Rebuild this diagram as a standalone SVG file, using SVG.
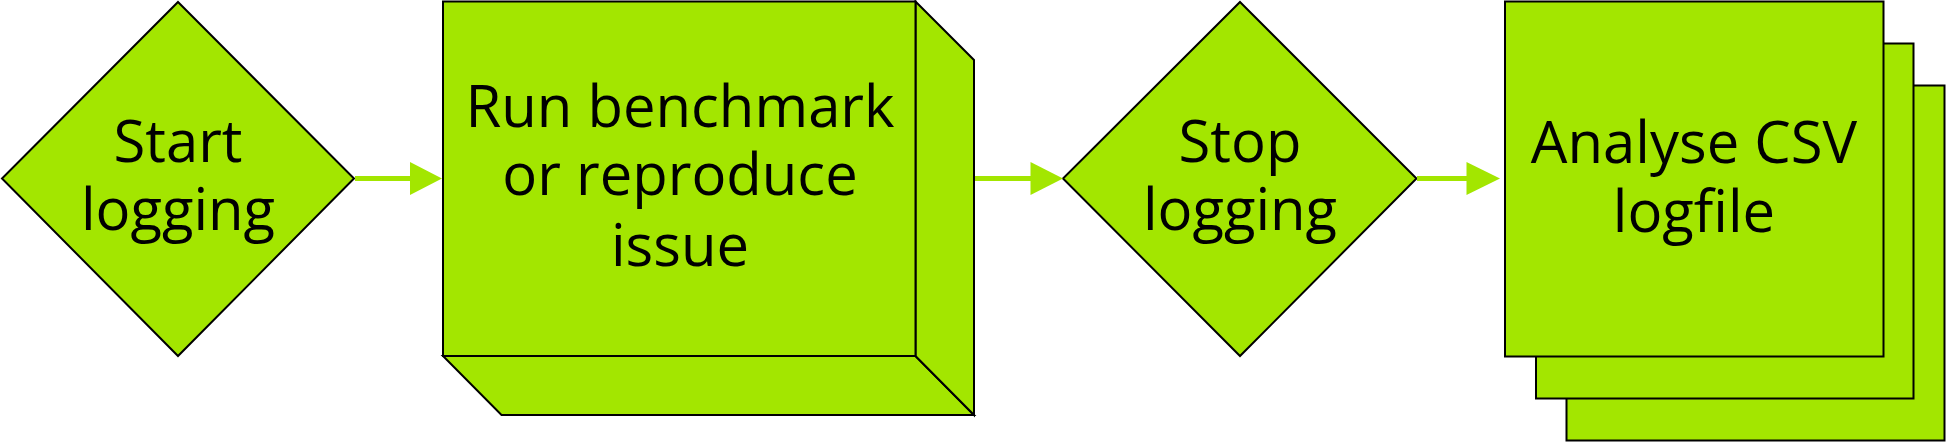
<svg xmlns="http://www.w3.org/2000/svg" width="1946" height="442" viewBox="0 0 1946 442">
<style>
.n{fill:#a3e600;stroke:#000;stroke-width:2;stroke-linejoin:miter}
.t{font-family:"Open Sans","Noto Sans","Liberation Sans",sans-serif;font-size:58px;fill:#000;text-anchor:middle}
.c{stroke:#a3e600;stroke-width:5;fill:none}
.h{fill:#a3e600}
</style>
<g id="start">
<polygon class="n" points="178,2 354,178.5 178,356 2,178.5"/>
<text class="t" x="178" y="162">Start</text>
<text class="t" x="178" y="230">logging</text>
</g>
<g id="run">
<polygon class="n" points="443,356 915.5,356 974,415 501.5,415"/>
<polygon class="n" points="915.5,1.5 974,60 974,415 915.5,356"/>
<rect class="n" x="443" y="1.5" width="472.5" height="354.5"/>
<text class="t" x="680" y="127">Run benchmark</text>
<text class="t" x="680" y="195">or reproduce</text>
<text class="t" x="680" y="266">issue</text>
</g>
<g id="stop">
<polygon class="n" points="1240,2 1416.5,178.5 1240,356 1063,178.5"/>
<text class="t" x="1240" y="162">Stop</text>
<text class="t" x="1240" y="230">logging</text>
</g>
<g id="analyse">
<rect class="n" x="1566.5" y="85.5" width="378" height="355"/>
<rect class="n" x="1536" y="43.5" width="377.5" height="355"/>
<rect class="n" x="1505" y="1.5" width="378.5" height="355"/>
<text class="t" x="1694" y="163">Analyse CSV</text>
<text class="t" x="1694" y="232">logfile</text>
</g>
<g id="connectors">
<line class="c" x1="355" y1="178.5" x2="412" y2="178.5"/>
<polygon class="h" points="410,162 442,178.5 410,195"/>
<line class="c" x1="975" y1="178.5" x2="1032" y2="178.5"/>
<polygon class="h" points="1030.5,162 1063,178.5 1030.5,195"/>
<line class="c" x1="1417" y1="178.5" x2="1468" y2="178.5"/>
<polygon class="h" points="1466.5,162 1500,178.5 1466.5,195"/>
</g>
</svg>
